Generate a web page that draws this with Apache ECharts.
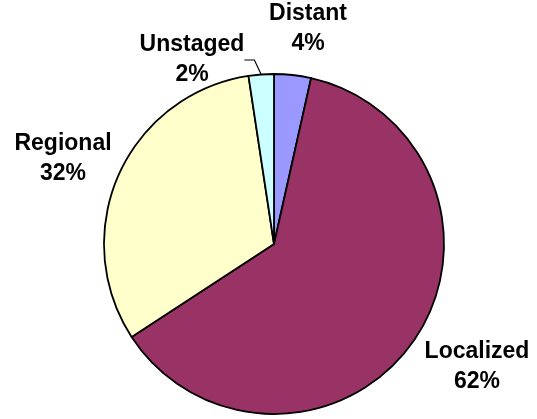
<!DOCTYPE html>
<html>
<head>
<meta charset="utf-8">
<script src="https://cdn.jsdelivr.net/npm/echarts@6/dist/echarts.min.js"></script>
<style>
html,body{margin:0;padding:0;background:#fff;}
#chart{width:537px;height:419px;}
</style>
</head>
<body>
<div id="chart"></div>
<script>
var categories = ['Distant', 'Localized', 'Regional', 'Unstaged'];
var values = [3.5, 62.3, 31.8, 2.4];
var colors = ['#9999FF', '#993366', '#FFFFCC', '#CCFFFF'];
var labelPos = [[308, 29], [477, 367], [63, 159], [192, 60]];

var chart = echarts.init(document.getElementById('chart'), null, {renderer: 'canvas'});
var data = categories.map(function (c, i) {
  return {
    name: c,
    value: values[i],
    itemStyle: {color: colors[i]},
    labelLine: {show: c === 'Unstaged'}
  };
});
chart.setOption({
  animation: false,
  backgroundColor: '#ffffff',
  series: [{
    type: 'pie',
    center: [274, 244],
    radius: 170,
    startAngle: 90,
    clockwise: true,
    avoidLabelOverlap: false,
    data: data,
    itemStyle: {borderColor: '#000', borderWidth: 1.8},
    label: {
      show: true,
      position: 'outside',
      formatter: function (p) { return p.name + '\n' + Math.round(p.value) + '%'; },
      fontFamily: 'Liberation Sans, Arial, sans-serif',
      fontWeight: 'bold',
      fontSize: 23,
      lineHeight: 30,
      color: '#000',
      align: 'center'
    },
    labelLine: {length: 6, length2: 10, lineStyle: {color: '#000', width: 1.2}},
    labelLayout: function (p) {
      var pos = labelPos[p.dataIndex];
      return {x: pos[0], y: pos[1], align: 'center', verticalAlign: 'middle'};
    },
    emphasis: {disabled: true}
  }]
});
</script>
</body>
</html>
